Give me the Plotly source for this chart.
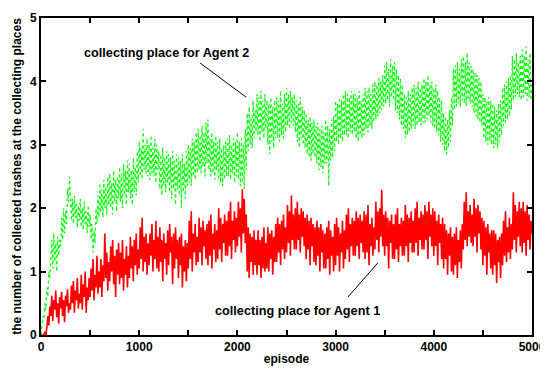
import plotly.graph_objects as go

# episodes sampled every 10
episodes = list(range(0, 5001, 10))

agent1 = [
    0.0, 0.0, 0.01, 0.0, 0.05, 0.0, 0.12, 0.3, 0.15, 0.45,
    0.3, 0.62, 0.22, 0.55, 0.4, 0.7, 0.28, 0.5, 0.18, 0.6,
    0.42, 0.68, 0.3, 0.55, 0.2, 0.62, 0.45, 0.72, 0.35, 0.5,
    0.4, 0.78, 0.5, 0.85, 0.35, 0.7, 0.55, 0.9, 0.42, 0.65,
    0.5, 0.95, 0.4, 0.8, 0.6, 1.0, 0.35, 0.75, 0.55, 0.9,
    0.6, 1.05, 0.7, 1.2, 0.55, 0.95, 0.75, 1.25, 0.65, 1.0,
    0.75, 1.2, 0.6, 1.1, 0.85, 1.6, 0.9, 1.3, 0.7, 1.15,
    0.85, 1.4, 1.0, 1.5, 0.8, 1.25, 0.6, 1.35, 0.95, 1.45,
    0.8, 1.3, 0.9, 1.5, 0.7, 1.2, 0.95, 1.4, 0.75, 1.25,
    0.9, 1.55, 1.05, 1.4, 0.85, 1.5, 1.1, 1.6, 0.95, 1.35,
    1.05, 1.7, 1.2, 1.85, 1.0, 1.55, 1.15, 1.6, 0.95, 1.45,
    1.1, 1.6, 1.25, 1.75, 1.0, 1.5, 1.2, 1.8, 1.05, 1.55,
    1.0, 1.7, 1.15, 1.5, 0.85, 1.6, 1.2, 1.45, 0.95, 1.65,
    1.1, 1.75, 1.3, 1.55, 0.8, 1.6, 1.05, 1.7, 1.2, 1.5,
    0.9, 1.55, 1.1, 1.6, 0.75, 1.4, 1.0, 1.5, 0.85, 1.45,
    1.05, 1.8, 1.2, 1.95, 1.0, 1.6, 1.3, 1.75, 1.1, 1.55,
    1.15, 1.85, 1.3, 1.7, 1.1, 1.8, 1.4, 1.65, 1.2, 1.75,
    1.1, 1.8, 1.25, 1.9, 1.05, 1.6, 1.35, 1.75, 1.15, 1.65,
    1.2, 2.0, 1.35, 1.85, 1.15, 1.75, 1.45, 1.9, 1.25, 1.8,
    1.25, 1.95, 1.4, 2.1, 1.2, 1.8, 1.5, 1.95, 1.3, 1.85,
    1.4, 2.1, 1.55, 2.0, 1.3, 2.3, 1.6, 2.15, 1.45, 1.9,
    1.0, 1.7, 0.9, 1.6, 1.15, 1.55, 0.95, 1.65, 1.1, 1.5,
    0.95, 1.65, 1.1, 1.5, 0.9, 1.55, 1.05, 1.7, 1.0, 1.45,
    1.05, 1.7, 1.0, 1.6, 1.2, 1.65, 0.95, 1.55, 1.15, 1.75,
    1.15, 1.85, 1.3, 1.75, 1.1, 1.8, 1.35, 1.9, 1.2, 1.7,
    1.3, 2.05, 1.45, 1.95, 1.25, 2.2, 1.5, 1.9, 1.35, 2.0,
    1.35, 2.1, 1.5, 1.9, 1.3, 2.0, 1.55, 1.95, 1.4, 1.85,
    1.2, 1.9, 1.35, 1.8, 1.1, 1.85, 1.4, 1.75, 1.15, 1.7,
    1.1, 1.8, 1.25, 1.7, 1.0, 1.75, 1.3, 1.65, 1.05, 1.6,
    1.05, 1.7, 1.2, 1.8, 0.95, 1.65, 1.25, 1.55, 1.0, 1.75,
    1.1, 1.85, 1.25, 1.7, 1.0, 1.6, 1.3, 1.8, 1.05, 1.65,
    1.2, 1.9, 1.35, 2.0, 1.15, 1.75, 1.4, 1.85, 1.25, 1.8,
    1.25, 1.95, 1.4, 1.85, 1.2, 1.9, 1.45, 1.8, 1.3, 1.95,
    1.2, 1.9, 1.3, 2.05, 1.1, 1.75, 1.4, 1.85, 1.25, 1.7,
    1.35, 2.1, 1.5, 1.95, 1.3, 2.0, 1.55, 2.29, 1.4, 1.9,
    1.25, 1.95, 1.4, 1.85, 1.05, 1.8, 1.45, 1.9, 1.2, 1.75,
    1.2, 1.9, 1.35, 2.0, 1.15, 1.75, 1.4, 1.85, 1.25, 1.8,
    1.25, 2.05, 1.4, 1.9, 1.15, 1.85, 1.45, 1.95, 1.3, 1.8,
    1.3, 2.0, 1.45, 2.1, 1.25, 1.85, 1.5, 1.95, 1.35, 1.9,
    1.35, 2.05, 1.5, 1.95, 1.2, 2.1, 1.55, 1.9, 1.4, 2.0,
    1.25, 1.95, 1.4, 1.8, 1.1, 1.9, 1.45, 1.75, 1.2, 1.85,
    1.05, 1.75, 1.2, 1.65, 0.95, 1.6, 1.25, 1.7, 1.0, 1.55,
    0.95, 1.6, 1.1, 1.7, 0.9, 1.5, 1.15, 1.65, 1.05, 1.75,
    1.35, 2.1, 1.5, 2.25, 1.4, 1.95, 1.55, 2.05, 1.45, 1.9,
    1.4, 2.15, 1.55, 2.0, 1.3, 2.05, 1.6, 1.95, 1.35, 1.85,
    1.1, 1.8, 1.25, 1.7, 0.95, 1.75, 1.3, 1.6, 1.05, 1.65,
    0.95, 1.65, 1.1, 1.6, 0.82, 1.5, 1.15, 1.55, 0.9, 1.6,
    1.1, 1.8, 1.25, 1.95, 1.15, 1.7, 1.3, 1.85, 1.2, 1.75,
    1.35, 2.25, 1.5, 2.05, 1.3, 1.95, 1.55, 2.1, 1.4, 2.0,
    1.3, 2.1, 1.45, 1.95, 1.25, 2.05, 1.5, 1.9, 1.35, 1.8,
    1.6,
]

agent2 = [
    0.0, 0.15, 0.3, 0.25, 0.5, 0.4, 0.75, 0.6, 1.0, 0.9,
    1.2, 1.5, 1.05, 1.6, 1.15, 1.45, 1.0, 1.55, 1.25, 1.5,
    1.4, 1.85, 1.5, 2.0, 1.6, 1.95, 1.75, 2.3, 2.1, 2.5,
    2.2, 1.8, 2.15, 1.75, 2.2, 1.85, 2.1, 1.7, 2.05, 1.8,
    2.15, 1.7, 2.0, 1.65, 2.1, 1.75, 1.95, 1.6, 2.05, 1.7,
    1.9, 1.5, 1.75, 1.3, 1.65, 1.45, 2.0, 1.75, 2.2, 1.85,
    2.4, 1.95, 2.3, 1.85, 2.45, 2.0, 2.35, 1.9, 2.5, 2.05,
    2.55, 2.0, 2.4, 1.9, 2.6, 2.1, 2.45, 1.95, 2.5, 2.15,
    2.65, 2.1, 2.55, 2.0, 2.7, 2.2, 2.6, 2.05, 2.75, 2.25,
    2.7, 2.15, 2.6, 2.05, 2.8, 2.25, 2.65, 2.2, 2.9, 2.4,
    3.05, 2.5, 2.95, 2.45, 3.25, 2.6, 3.0, 2.55, 3.1, 2.5,
    3.0, 2.45, 3.15, 2.55, 2.95, 2.5, 3.1, 2.4, 3.0, 2.6,
    2.9, 2.3, 2.85, 2.2, 2.95, 2.35, 2.8, 2.25, 2.9, 2.4,
    2.85, 2.25, 2.8, 2.15, 2.9, 2.3, 2.75, 2.05, 2.85, 2.3,
    2.8, 2.2, 2.75, 2.0, 2.85, 2.25, 2.7, 2.15, 2.9, 2.35,
    3.0, 2.4, 2.95, 2.35, 3.1, 2.5, 3.05, 2.45, 3.2, 2.55,
    3.25, 2.6, 3.15, 2.55, 3.3, 2.65, 3.2, 2.5, 3.35, 2.7,
    3.4, 2.6, 3.1, 2.5, 3.2, 2.55, 3.05, 2.45, 3.15, 2.6,
    3.05, 2.45, 3.1, 2.4, 2.95, 2.35, 3.0, 2.45, 3.05, 2.5,
    3.1, 2.5, 3.15, 2.45, 3.0, 2.55, 3.1, 2.4, 3.05, 2.5,
    3.2, 2.45, 3.05, 2.35, 3.1, 2.4, 3.0, 2.3, 3.25, 2.6,
    3.5, 2.9, 3.6, 3.0, 3.45, 2.95, 3.7, 3.1, 3.55, 3.2,
    3.8, 3.15, 3.75, 3.05, 3.85, 3.2, 3.7, 3.1, 3.8, 3.25,
    3.7, 3.0, 3.65, 2.85, 3.75, 3.05, 3.6, 2.95, 3.7, 3.1,
    3.75, 3.1, 3.7, 3.05, 3.85, 3.15, 3.65, 3.1, 3.8, 3.2,
    3.9, 3.3, 3.8, 3.25, 3.85, 3.35, 3.75, 3.3, 3.8, 3.2,
    3.7, 3.05, 3.65, 2.95, 3.75, 3.1, 3.6, 3.0, 3.55, 2.95,
    3.5, 2.85, 3.4, 2.8, 3.45, 2.75, 3.35, 2.85, 3.4, 2.8,
    3.3, 2.7, 3.35, 2.6, 3.25, 2.65, 3.3, 2.55, 3.2, 2.7,
    3.4, 2.7, 3.3, 2.35, 3.25, 2.75, 3.4, 2.8, 3.45, 2.9,
    3.7, 3.05, 3.65, 3.0, 3.75, 3.1, 3.7, 3.05, 3.8, 3.15,
    3.85, 3.15, 3.8, 3.1, 3.75, 3.2, 3.85, 3.15, 3.8, 3.2,
    3.8, 3.1, 3.75, 3.05, 3.85, 3.15, 3.7, 3.1, 3.8, 3.15,
    3.9, 3.25, 3.85, 3.2, 3.9, 3.3, 3.8, 3.25, 3.95, 3.35,
    4.0, 3.4, 3.95, 3.45, 4.05, 3.5, 4.0, 3.55, 4.1, 3.6,
    4.25, 3.65, 4.3, 3.7, 4.2, 3.6, 4.35, 3.75, 4.25, 3.7,
    4.3, 3.55, 4.2, 3.5, 4.1, 3.4, 4.05, 3.3, 3.95, 3.25,
    3.8, 3.1, 3.75, 3.15, 3.85, 3.2, 3.8, 3.25, 3.9, 3.3,
    3.95, 3.25, 3.9, 3.3, 4.0, 3.35, 3.9, 3.3, 3.95, 3.35,
    4.05, 3.35, 4.0, 3.4, 4.1, 3.45, 3.95, 3.35, 4.0, 3.3,
    3.9, 3.25, 3.95, 3.2, 3.85, 3.15, 3.75, 3.05, 3.7, 3.0,
    3.5, 2.9, 3.45, 2.85, 3.4, 2.95, 3.55, 3.05, 3.75, 3.3,
    4.2, 3.55, 4.25, 3.6, 4.3, 3.65, 4.2, 3.6, 4.35, 3.7,
    4.4, 3.65, 4.3, 3.6, 4.45, 3.7, 4.3, 3.65, 4.25, 3.6,
    4.2, 3.5, 4.15, 3.45, 4.1, 3.4, 4.05, 3.35, 4.0, 3.3,
    3.8, 3.1, 3.75, 3.05, 3.7, 3.0, 3.75, 3.05, 3.7, 3.0,
    3.65, 2.95, 3.6, 3.0, 3.55, 2.95, 3.65, 3.05, 3.7, 3.15,
    3.9, 3.3, 3.95, 3.35, 4.0, 3.4, 4.05, 3.45, 4.1, 3.55,
    4.4, 3.7, 4.35, 3.75, 4.45, 3.8, 4.3, 3.75, 4.4, 3.7,
    4.5, 3.75, 4.4, 3.8, 4.55, 3.7, 4.35, 3.75, 4.45, 3.7,
    4.0,
]

label_agent1 = "collecting place for Agent 1"
label_agent2 = "collecting place for Agent 2"
x_title = "episode"
y_title = "the number of collected trashes at the collecting places"

FONT = "Liberation Sans, Arial, sans-serif"

fig = go.Figure()
fig.add_trace(go.Scatter(x=episodes, y=agent2, mode="lines",
                         line=dict(color="#00ff00", width=1.2, dash="3px,3px"),
                         showlegend=False))
fig.add_trace(go.Scatter(x=episodes, y=agent1, mode="lines",
                         line=dict(color="#ff0000", width=1.6),
                         showlegend=False))

# pointer lines
fig.add_shape(type="line", x0=1620, y0=4.29, x1=2090, y1=3.75,
              line=dict(color="black", width=1))
fig.add_shape(type="line", x0=3126, y0=0.60, x1=3432, y1=1.14,
              line=dict(color="black", width=1))

fig.add_annotation(x=1283, y=4.45, text=label_agent2, showarrow=False,
                   font=dict(family=FONT, size=12.7, color="black", weight="bold"))
fig.add_annotation(x=2617, y=0.38, text=label_agent1, showarrow=False,
                   font=dict(family=FONT, size=12.7, color="black", weight="bold"))

axis_common = dict(showline=True, linecolor="black", linewidth=2, mirror="ticks",
                   ticks="inside", ticklen=5, tickwidth=1.5, tickcolor="black",
                   showgrid=False, zeroline=False, automargin=False,
                   tickfont=dict(family=FONT, size=12, color="black", weight="bold"))

fig.update_xaxes(range=[0, 5000], tickvals=[0, 1000, 2000, 3000, 4000, 5000],
                 minor=dict(tickvals=[500, 1500, 2500, 3500, 4500], ticks="inside",
                            ticklen=5, tickwidth=1.5, tickcolor="black"),
                 title=dict(text=x_title, standoff=1,
                            font=dict(family=FONT, size=12, color="black", weight="bold")),
                 **axis_common)
fig.update_yaxes(range=[0, 5], tickvals=[0, 1, 2, 3, 4, 5],
                 title=dict(text=y_title, standoff=6,
                            font=dict(family=FONT, size=12, color="black", weight="bold")),
                 **axis_common)

# page body has an 8px margin, so the figure is sized to fill the rest of the window
fig.update_layout(width=540, height=361,
                  margin=dict(l=33, r=16, t=10, b=34),
                  plot_bgcolor="white", paper_bgcolor="white")

fig.write_html("out.html")
